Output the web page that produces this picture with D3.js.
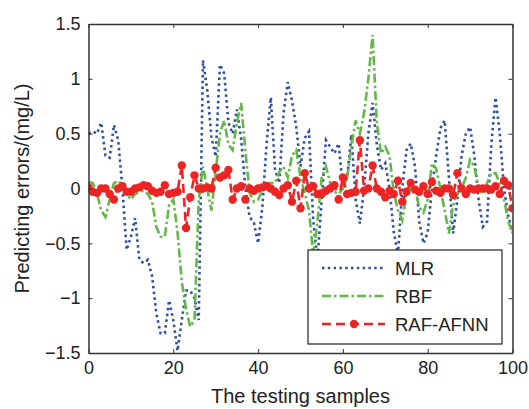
<!DOCTYPE html>
<html>
<head>
<meta charset="utf-8">
<script src="https://cdn.jsdelivr.net/npm/d3@7"></script>
<style>
  body { margin: 0; background: #fff; }
  svg { display: block; font-family: "Liberation Sans", Arial, sans-serif; }
</style>
</head>
<body>
<div id="chart"></div>
<script>
// predicting errors for the 101 testing samples (0..100)
const mlr = [
  0.50, 0.52, 0.50, 0.60, 0.30, 0.28, 0.58, 0.44, 0.00, -0.56,
  -0.44, -0.27, -0.65, -0.68, -0.65, -0.80, -1.14, -1.32, -1.32, -1.02,
  -1.20, -1.48, -1.20, -0.93, -0.93, -1.00, -1.20, 1.17, 0.90, 0.47,
  0.29, 1.13, 1.05, 0.60, 0.50, 0.72, 0.45, 0.00, -0.26, -0.31,
  -0.50, -0.17, 0.41, 0.83, 0.17, 0.05, 0.69, 0.97, 0.80, 0.56,
  0.20, 0.46, 0.52, -0.29, -0.65, -0.10, 0.44, 0.38, 0.32, 0.41,
  0.00, 0.10, 0.49, -0.10, -0.32, 0.00, 0.50, 0.78, 0.40, 0.17,
  0.23, 0.00, -0.40, -0.60, 0.00, 0.35, 0.41, 0.20, -0.30, -0.50,
  -0.40, 0.00, 0.30, 0.55, 0.62, 0.10, -0.41, -0.10, 0.30, 0.50,
  0.56, 0.30, -0.10, -0.35, -0.30, 0.40, 0.83, 0.50, 0.00, -0.25,
  -0.40
];
const rbf = [
  0.06, 0.05, -0.05, -0.20, -0.26, -0.10, 0.05, 0.07, 0.03, -0.05,
  -0.10, -0.05, -0.03, -0.02, -0.05, -0.12, -0.35, -0.44, -0.44, -0.15,
  -0.10, -0.40, -0.85, -1.10, -1.26, -1.20, -0.10, 0.20, 0.00, -0.20,
  0.15, 0.50, 0.62, 0.40, 0.35, 0.60, 0.78, 0.34, -0.04, -0.12,
  -0.10, -0.02, 0.05, 0.05, 0.05, 0.15, 0.20, 0.10, 0.30, 0.35,
  0.10, -0.04, -0.20, -0.60, -0.30, 0.10, 0.20, 0.05, -0.03, -0.05,
  0.00, 0.10, 0.38, 0.62, 0.50, 0.69, 1.00, 1.40, 0.60, 0.32,
  0.38, 0.30, -0.04, -0.20, -0.29, -0.05, 0.00, 0.00, -0.17, -0.22,
  -0.10, 0.23, 0.18, 0.00, -0.20, -0.41, -0.15, -0.05, 0.00, 0.10,
  0.26, 0.20, 0.00, -0.05, 0.05, 0.14, 0.14, 0.05, -0.10, -0.30,
  -0.41
];
const rafAfnn = [
  0.01, -0.03, -0.04, 0.00, 0.00, -0.05, -0.10, 0.00, 0.02, -0.03,
  -0.03, 0.00, 0.01, 0.03, 0.02, -0.02, -0.04, -0.03, 0.03, -0.05,
  -0.04, -0.03, 0.21, -0.36, -0.08, 0.12, 0.00, 0.00, 0.01, 0.00,
  0.19, 0.10, 0.12, 0.17, -0.10, 0.00, 0.02, -0.10, 0.00, -0.02,
  0.00, 0.01, 0.02, 0.00, -0.03, -0.06, 0.00, 0.03, -0.12, 0.07,
  -0.18, 0.14, 0.00, 0.02, -0.05, -0.05, -0.02, 0.00, 0.03, -0.10,
  0.10, -0.05, -0.04, -0.03, 0.44, -0.02, 0.00, 0.21, 0.00, -0.03,
  -0.08, -0.02, -0.05, 0.07, -0.12, -0.03, 0.05, -0.01, -0.03, 0.02,
  -0.05, 0.06, -0.02, -0.04, 0.00, 0.00, -0.06, 0.14, 0.00, -0.05,
  0.00, -0.01, 0.00, 0.00, 0.00, -0.01, 0.02, -0.05, 0.07, 0.03,
  -0.18
];
const xTicks = [0, 20, 40, 60, 80, 100];
const yTicks = [-1.5, -1, -0.5, 0, 0.5, 1, 1.5];
const seriesNames = ["MLR", "RBF", "RAF-AFNN"];

const W = 529, H = 409;
const margin = { top: 24, right: 16.5, bottom: 56, left: 88.5 };
const width = W - margin.left - margin.right,
  height = H - margin.top - margin.bottom;

const svg = d3.select("#chart").append("svg")
  .attr("width", W)
  .attr("height", H);

const g = svg.append("g")
  .attr("transform", `translate(${margin.left},${margin.top})`);

const x = d3.scaleLinear().domain([0, 100]).range([0, width]);
const y = d3.scaleLinear().domain([-1.5, 1.5]).range([height, 0]);

const styles = {
  "MLR": { color: "#2f4f9f", dash: "2.5,3.3", values: mlr },
  "RBF": { color: "#63b947", dash: "9,3,2.5,3", values: rbf },
  "RAF-AFNN": { color: "#ee2424", dash: "9,5", values: rafAfnn }
};

const line = d3.line()
  .x((d, i) => x(i))
  .y(d => y(d));

// clip to plot box
g.append("clipPath").attr("id", "clip")
  .append("rect").attr("width", width).attr("height", height);

const plot = g.append("g").attr("clip-path", "url(#clip)");

seriesNames.forEach(name => {
  const s = styles[name];
  plot.append("path")
    .datum(s.values)
    .attr("fill", "none")
    .attr("stroke", s.color)
    .attr("stroke-width", 2.6)
    .attr("stroke-dasharray", s.dash)
    .attr("d", line);
});

// markers for RAF-AFNN
plot.selectAll(".dot")
  .data(rafAfnn)
  .join("circle")
  .attr("class", "dot")
  .attr("cx", (d, i) => x(i))
  .attr("cy", d => y(d))
  .attr("r", 4.2)
  .attr("fill", styles["RAF-AFNN"].color);

// Axes (MATLAB-like box with inward ticks)
const axisColor = "#333";
const fmt = d => d3.format("")(d);

const xAxis = g.append("g")
  .attr("transform", `translate(0,${height})`)
  .call(d3.axisBottom(x).tickValues(xTicks).tickSizeInner(-4).tickSizeOuter(0).tickPadding(8).tickFormat(fmt));
const xAxisTop = g.append("g")
  .call(d3.axisTop(x).tickValues(xTicks).tickSizeInner(-4).tickSizeOuter(0).tickFormat(""));
const yAxis = g.append("g")
  .call(d3.axisLeft(y).tickValues(yTicks).tickSizeInner(-4).tickSizeOuter(0).tickPadding(8).tickFormat(fmt));
const yAxisRight = g.append("g")
  .attr("transform", `translate(${width},0)`)
  .call(d3.axisRight(y).tickValues(yTicks).tickSizeInner(-4).tickSizeOuter(0).tickFormat(""));

[xAxis, xAxisTop, yAxis, yAxisRight].forEach(a => {
  a.select(".domain").attr("stroke", axisColor).attr("stroke-width", 1.5);
  a.selectAll(".tick line").attr("stroke", axisColor).attr("stroke-width", 1);
  a.selectAll("text")
    .attr("fill", "#222")
    .style("font-size", "18px")
    .style("font-family", "'Liberation Sans', Arial, sans-serif");
});

// Labels
g.append("text")
  .attr("x", width / 2)
  .attr("y", height + 50)
  .attr("text-anchor", "middle")
  .attr("fill", "#222")
  .style("font-size", "20px")
  .text("The testing samples");

g.append("text")
  .attr("transform", "rotate(-90)")
  .attr("x", -height / 2)
  .attr("y", -60)
  .attr("text-anchor", "middle")
  .attr("fill", "#222")
  .style("font-size", "20px")
  .text("Predicting errors/(mg/L)");

// Legend
const legend = g.append("g")
  .attr("transform", `translate(${308 - margin.left},${250 - margin.top})`);
legend.append("rect")
  .attr("width", 194)
  .attr("height", 94)
  .attr("fill", "#fff")
  .attr("stroke", "#222")
  .attr("stroke-width", 1.2);

seriesNames.forEach((name, i) => {
  const s = styles[name];
  const row = legend.append("g").attr("transform", `translate(0,${18 + i * 28})`);
  row.append("line")
    .attr("x1", 14).attr("x2", 77)
    .attr("stroke", s.color)
    .attr("stroke-width", 2.6)
    .attr("stroke-dasharray", s.dash);
  if (name === "RAF-AFNN") {
    row.append("circle").attr("cx", 46).attr("r", 4.2).attr("fill", s.color);
  }
  row.append("text")
    .attr("x", 87)
    .attr("y", 6.5)
    .attr("fill", "#222")
    .style("font-size", "18.5px")
    .text(name);
});
</script>
</body>
</html>
